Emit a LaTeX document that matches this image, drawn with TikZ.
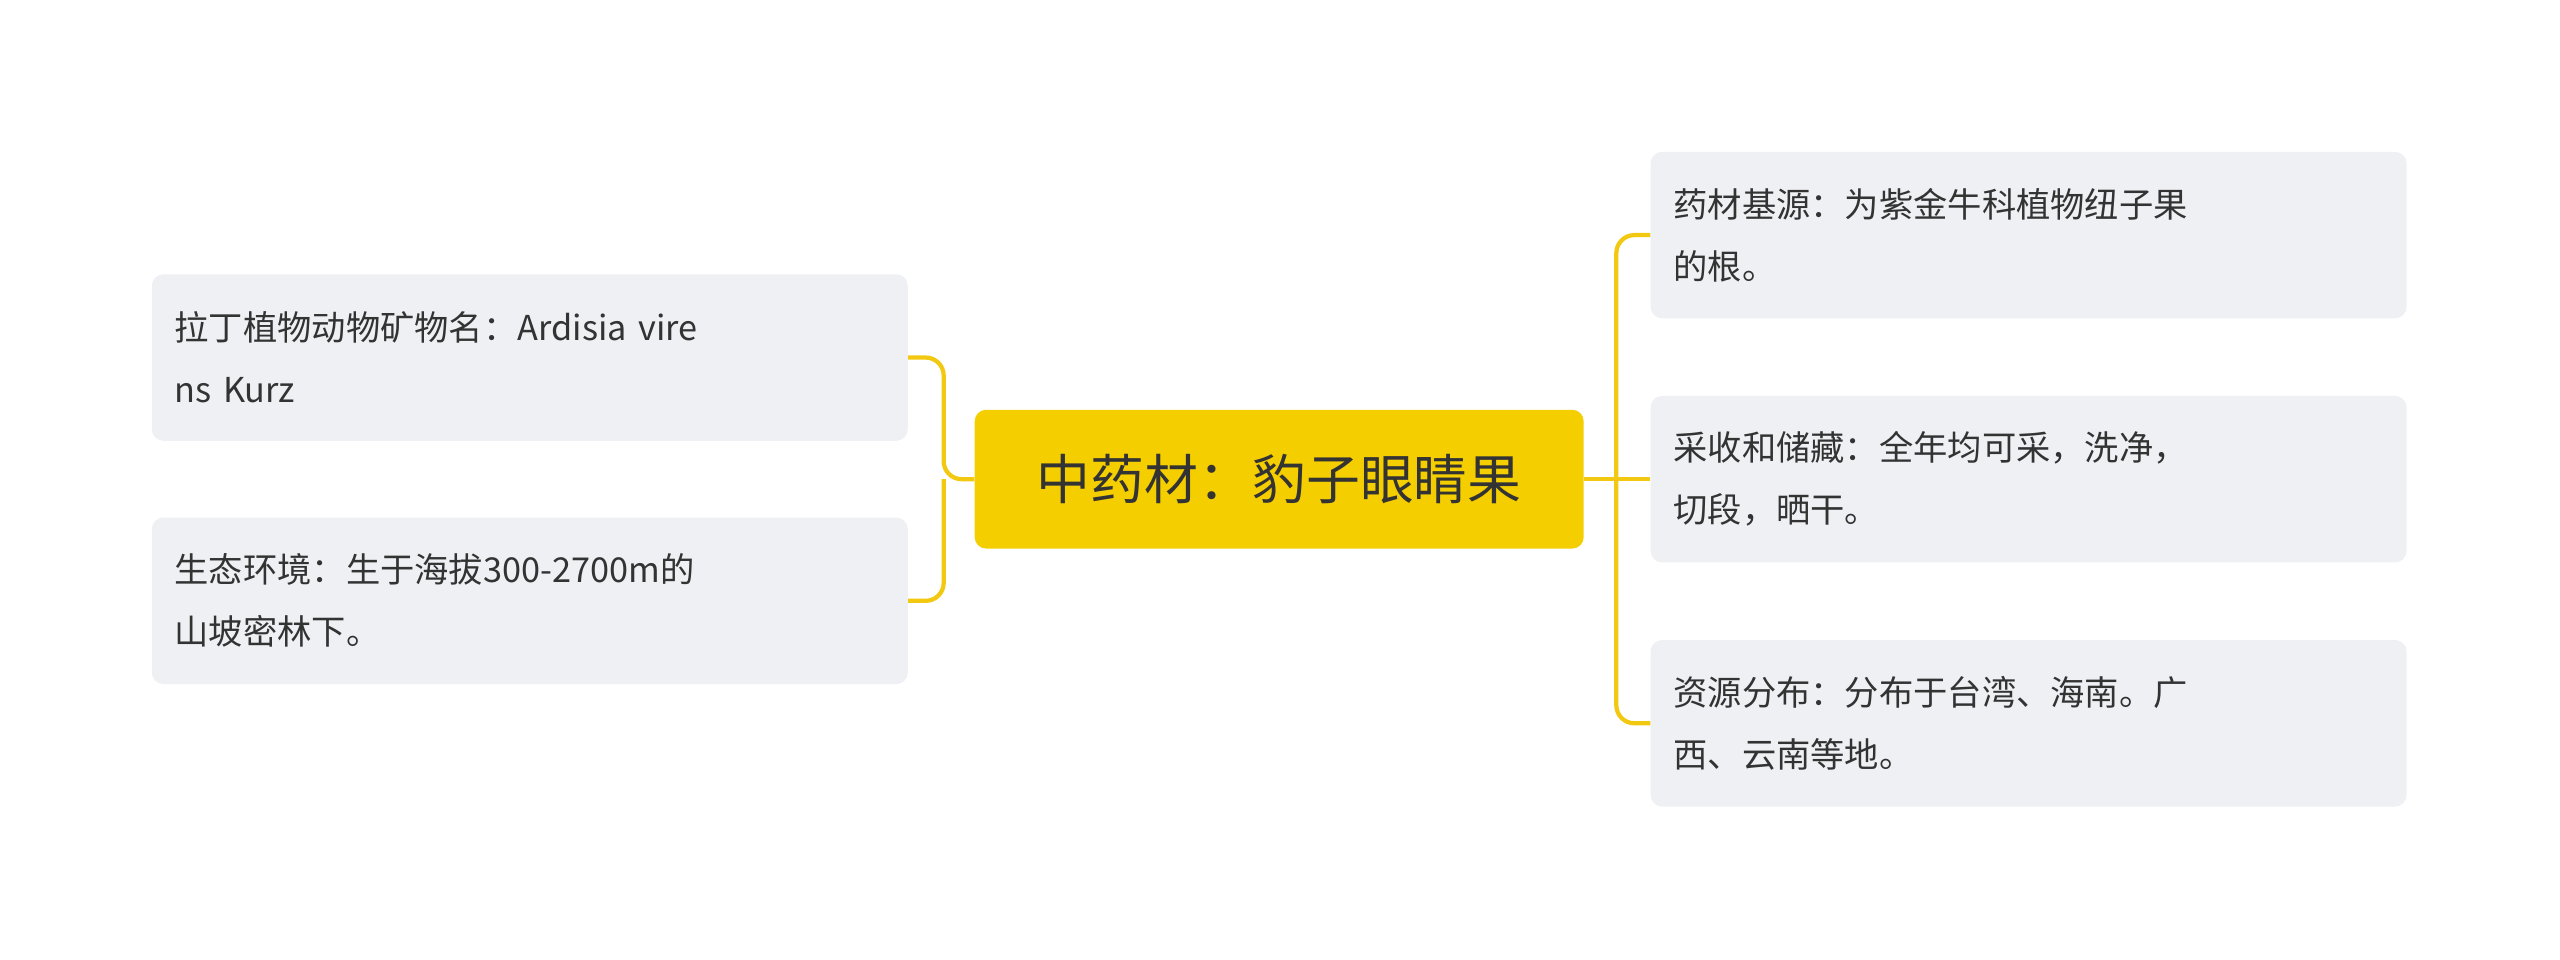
\documentclass[tikz,border=0pt]{standalone}
\usepackage{fontspec}
\setmainfont{Noto Sans CJK SC}
\begin{document}
\begin{tikzpicture}[x=1pt,y=-1pt,
  leaf/.style={fill=leafbg,rounded corners=7pt,minimum width=463pt,minimum height=102pt,text width=435pt,align=left,inner sep=0pt,font=\fontsize{21}{38}\selectfont,text=txt},
  conn/.style={draw=lineY,line width=2.6pt,rounded corners=11pt}]
\definecolor{leafbg}{HTML}{EEF0F3}
\definecolor{lineY}{HTML}{F2C811}
\definecolor{ctr}{HTML}{F5CE00}
\definecolor{txt}{HTML}{333333}
\useasboundingbox (0,0) rectangle (1568,588);
\node[fill=ctr,rounded corners=7pt,minimum width=373pt,minimum height=85pt,font=\fontsize{33}{40}\selectfont,text=txt] (c) at (783.5,293.5) {中药材：豹子眼睛果};
\node[leaf] (l1) at (324.5,219) {拉丁植物动物矿物名：Ardisia vire\\ns Kurz};
\node[leaf] (l2) at (324.5,368) {生态环境：生于海拔300-2700m的\\山坡密林下。};
\node[leaf] (r1) at (1242.5,144) {药材基源：为紫金牛科植物纽子果\\的根。};
\node[leaf] (r2) at (1242.5,293.5) {采收和储藏：全年均可采，洗净，\\切段，晒干。};
\node[leaf] (r3) at (1242.5,443) {资源分布：分布于台湾、海南。广\\西、云南等地。};
\coordinate (jl) at (578,293.5);
\coordinate (jr) at (990,293.5);
\draw[conn] (l1.east) -| (jl) -- (c.west);
\draw[conn] (l2.east) -| (jl);
\draw[conn] (c.east) -- (jr);
\draw[conn] (r1.west) -| (jr);
\draw[conn] (r3.west) -| (jr);
\draw[conn] (jr) -- (r2.west);
\end{tikzpicture}
\end{document}
